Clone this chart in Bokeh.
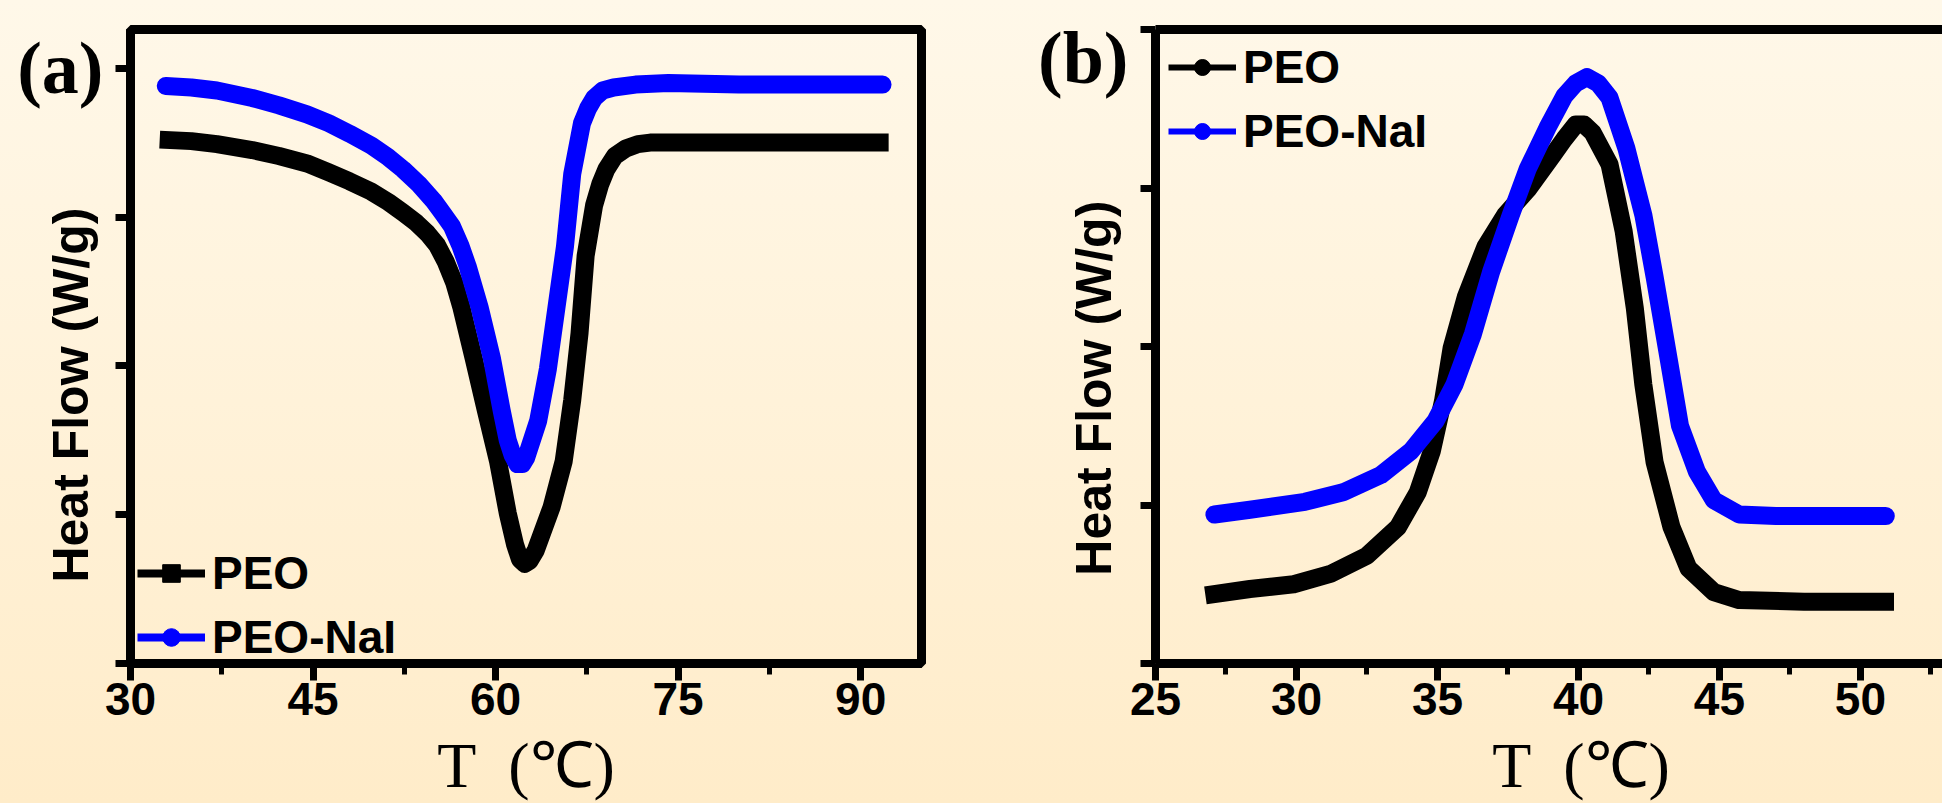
from bokeh.plotting import figure
from bokeh.models import (Range1d, FixedTicker, LinearAxis, Legend, LegendItem,
                          InlineStyleSheet)
from bokeh.layouts import row
from bokeh.embed import file_html
from bokeh.resources import INLINE

# ---------------- data ----------------
# panel (a): melting endotherm
a_peo_T = [32.4, 35.0, 37.1, 40.0, 42.2, 44.5, 46.3, 48.0, 49.8, 51.2, 52.4, 53.5, 54.4, 55.2,
           55.9, 56.6, 57.2, 58.2, 59.2, 60.2, 61.0, 61.6, 62.0, 62.4, 62.8, 63.3, 64.6, 65.6,
           66.3, 66.9, 67.4, 68.1, 68.6, 69.1, 69.8, 70.7, 71.7, 72.7, 75.2, 80.0, 85.0, 92.3]
a_peo_H = [3.52, 3.51, 3.49, 3.45, 3.41, 3.36, 3.30, 3.24, 3.17, 3.10, 3.03, 2.96, 2.89, 2.81,
           2.70, 2.56, 2.39, 2.05, 1.70, 1.36, 1.01, 0.80, 0.70, 0.67, 0.69, 0.76, 1.05, 1.36,
           1.77, 2.22, 2.74, 3.08, 3.22, 3.32, 3.41, 3.46, 3.49, 3.50, 3.50, 3.50, 3.50, 3.50]
a_nai_T = [32.9, 35.0, 37.1, 40.0, 42.2, 44.5, 46.3, 48.0, 49.8, 51.2, 52.4, 53.7, 54.9, 55.7,
           56.4, 57.1, 57.7, 58.7, 59.7, 60.5, 61.0, 61.4, 61.8, 62.2, 62.5, 63.5, 64.3, 65.0,
           65.7, 66.3, 67.1, 67.6, 68.1, 68.8, 69.7, 71.5, 74.2, 80.0, 85.0, 91.8]
a_nai_H = [3.88, 3.87, 3.85, 3.80, 3.75, 3.69, 3.63, 3.56, 3.48, 3.40, 3.32, 3.22, 3.11, 3.02,
           2.94, 2.81, 2.67, 2.39, 2.05, 1.70, 1.50, 1.40, 1.34, 1.34, 1.38, 1.63, 1.98, 2.39,
           2.80, 3.29, 3.63, 3.73, 3.80, 3.85, 3.87, 3.89, 3.90, 3.89, 3.89, 3.89]

# panel (b): crystallisation exotherm
b_peo_T = [26.77, 28.35, 29.9, 31.2, 32.5, 33.6, 34.3, 34.8, 35.2, 35.5, 36.0, 36.7, 37.4, 38.2,
           39.1, 39.5, 39.9, 40.2, 40.5, 41.1, 41.6, 42.0, 42.3, 42.7, 43.3, 43.9, 44.8, 45.7,
           48.0, 51.19]
b_peo_H = [0.43, 0.47, 0.50, 0.565, 0.68, 0.86, 1.08, 1.34, 1.66, 1.99, 2.31, 2.63, 2.83, 2.99,
           3.21, 3.31, 3.40, 3.40, 3.35, 3.15, 2.73, 2.24, 1.76, 1.27, 0.86, 0.60, 0.45, 0.40,
           0.39, 0.39]
b_nai_T = [27.09, 28.35, 30.3, 31.65, 33.0, 34.06, 34.93, 35.6, 36.26, 36.9, 37.6, 38.2, 38.9,
           39.5, 39.9, 40.3, 40.7, 41.1, 41.7, 42.3, 42.7, 43.2, 43.6, 44.2, 44.8, 45.7, 47.0,
           50.9]
b_nai_H = [0.94, 0.97, 1.02, 1.08, 1.19, 1.34, 1.53, 1.76, 2.08, 2.47, 2.83, 3.12, 3.38,
           3.58, 3.66, 3.70, 3.66, 3.57, 3.25, 2.83, 2.44, 1.92, 1.50, 1.21, 1.03, 0.94, 0.93,
           0.93]

a_x_ticks = [30, 45, 60, 75, 90]
a_x_minor = [37.5, 52.5, 67.5, 82.5]
b_x_ticks = [25, 30, 35, 40, 45, 50]
b_x_minor = [27.5, 32.5, 37.5, 42.5, 47.5, 52.5]
y_ticks = [0, 1, 2, 3, 4]
series_labels = ["PEO", "PEO-NaI"]
panel_labels = ["(a)", "\n(b)"]
y_title = "Heat Flow (W/g)"
x_title = "T\u00a0\u00a0(℃)"

BLACK = "#000000"
BLUE = "#0000ff"
SANS = "Liberation Sans"
SERIF = "Liberation Serif"
NAN = float("nan")
AXW = 9        # frame / axis line width
CW = 18        # curve band width


def style_axes(p, xt, xm, panel_label, label_baseline, label_lh, ytitle_pad, ytitle_standoff,
               xpad):
    xa = p.xaxis[0]
    xa.ticker = FixedTicker(ticks=xt, minor_ticks=xm)
    xa.axis_line_width = AXW
    xa.axis_line_color = BLACK
    xa.major_tick_line_width = 7
    xa.major_tick_out = 17
    xa.major_tick_in = 0
    xa.minor_tick_line_width = 5
    xa.minor_tick_out = 11
    xa.minor_tick_in = 0
    xa.major_label_text_font = SANS
    xa.major_label_text_font_style = "bold"
    xa.major_label_text_font_size = "46px"
    xa.major_label_text_color = BLACK
    xa.major_label_standoff = 2
    xa.axis_label = "\u00a0" * xpad + x_title
    xa.axis_label_text_font = SERIF
    xa.axis_label_text_font_style = "normal"
    xa.axis_label_text_font_size = "64px"
    xa.axis_label_text_color = BLACK
    xa.axis_label_standoff = 12

    ya = p.yaxis[0]
    ya.ticker = FixedTicker(ticks=y_ticks, minor_ticks=[])
    ya.axis_line_width = AXW
    ya.axis_line_color = BLACK
    ya.major_tick_line_width = 7
    ya.major_tick_out = 15
    ya.major_tick_in = 0
    ya.minor_tick_line_color = None
    overrides = {t: "" for t in y_ticks}
    overrides[y_ticks[-1]] = panel_label
    ya.major_label_overrides = overrides
    ya.major_label_text_font = SERIF
    ya.major_label_text_font_style = "bold"
    ya.major_label_text_font_size = "74px"
    ya.major_label_text_color = BLACK
    ya.major_label_text_baseline = label_baseline
    ya.major_label_text_line_height = label_lh
    ya.major_label_standoff = 12
    ya.axis_label = y_title + "\u00a0" * ytitle_pad
    ya.axis_label_text_font = SANS
    ya.axis_label_text_font_style = "bold"
    ya.axis_label_text_font_size = "50px"
    ya.axis_label_text_color = BLACK
    ya.axis_label_standoff = ytitle_standoff
    p.grid.visible = False


def make_legend(p, lw, glyph_h, markers, loc):
    items = []
    for lab, col, mk in zip(series_labels, [BLACK, BLUE], markers):
        lr = p.line([NAN], [NAN], line_color=col, line_width=lw)
        sr = p.scatter([NAN], [NAN], marker=mk, fill_color=col, line_color=col)
        items.append(LegendItem(label=lab, renderers=[lr, sr]))
    leg = Legend(items=items, location=loc, glyph_width=68, glyph_height=glyph_h,
                 label_standoff=7, spacing=10, padding=0, margin=0,
                 border_line_color=None, background_fill_alpha=0,
                 label_text_font=SANS, label_text_font_style="bold",
                 label_text_font_size="46px", label_text_color=BLACK,
                 label_text_baseline="bottom")
    p.add_layout(leg)


# ---------------- panel (a) ----------------
fa = figure(width=971, height=803, x_range=Range1d(30, 95), y_range=Range1d(0, 4.26),
            output_backend="svg", toolbar_location=None,
            min_border_left=130, min_border_right=50, min_border_top=29, min_border_bottom=140,
            background_fill_color=None, border_fill_color=None,
            outline_line_color=BLACK, outline_line_width=AXW)
style_axes(fa, a_x_ticks, a_x_minor, panel_labels[0], "middle", 1.2, 7, -85, 0)
fa.line(a_peo_T, a_peo_H, line_color=BLACK, line_width=CW, line_join="round", line_cap="butt")
fa.line(a_nai_T, a_nai_H, line_color=BLUE, line_width=CW, line_join="round", line_cap="round")
make_legend(fa, 8, 44, ["square", "circle"], (7, -1))

# ---------------- panel (b) ----------------
fb = figure(width=971, height=803, x_range=Range1d(25, 52.91), y_range=Range1d(0, 4),
            output_backend="svg", toolbar_location=None,
            min_border_left=184, min_border_right=0, min_border_top=29, min_border_bottom=140,
            background_fill_color=None, border_fill_color=None, outline_line_color=None)
style_axes(fb, b_x_ticks, b_x_minor, panel_labels[1], "top", 0.2, 6, -87, 4)
top_axis = LinearAxis(ticker=FixedTicker(ticks=[], minor_ticks=[]), axis_line_width=AXW,
                      axis_line_color=BLACK, major_tick_line_color=None,
                      minor_tick_line_color=None)
fb.add_layout(top_axis, "above")
fb.line(b_peo_T, b_peo_H, line_color=BLACK, line_width=CW, line_join="round", line_cap="butt")
fb.line(b_nai_T, b_nai_H, line_color=BLUE, line_width=CW, line_join="round", line_cap="round")
make_legend(fb, 6, 40, ["circle", "circle"], (13, 505))

bg = InlineStyleSheet(css=":host { background: linear-gradient(to bottom, #fff8e9, #ffecc9); }")
p = row(fa, fb, stylesheets=[bg])

open("out.html", "w").write(file_html(p, INLINE))
